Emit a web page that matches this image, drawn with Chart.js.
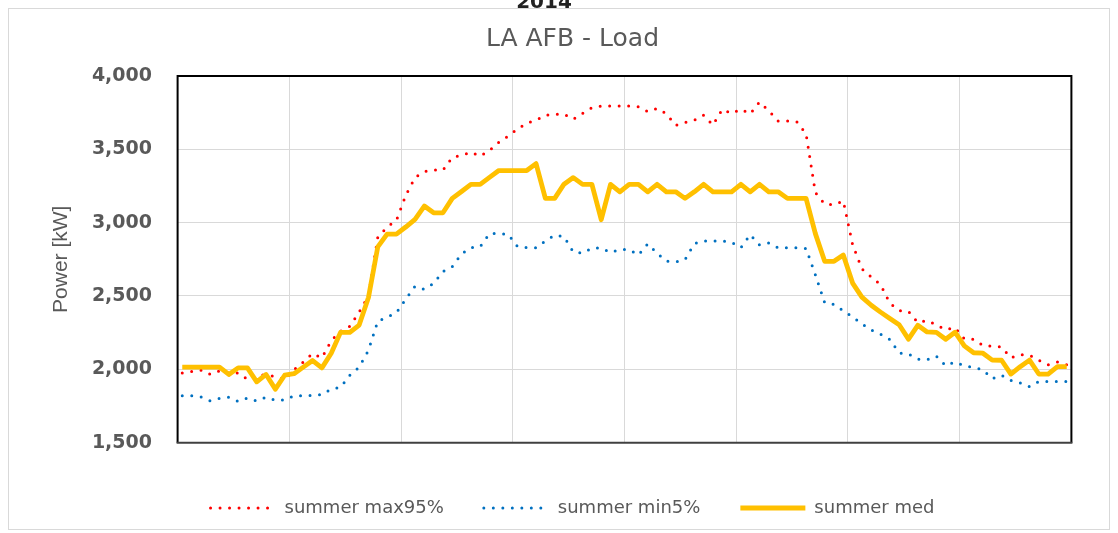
<!DOCTYPE html>
<html lang="en">
<head>
<meta charset="UTF-8">
<title>LA AFB - Load</title>
<script src="https://cdn.jsdelivr.net/npm/chart.js"></script>
<style>
  body { margin: 0; background: #fff; }
  canvas { display: block; }
</style>
</head>
<body>
<canvas id="loadChart" width="1118" height="533"></canvas>
<script>
// 15 minute steps, one label every 3 hours is shown
const timeLabels = [
  '0:00','0:15','0:30','0:45','1:00','1:15','1:30','1:45','2:00','2:15','2:30','2:45',
  '3:00','3:15','3:30','3:45','4:00','4:15','4:30','4:45','5:00','5:15','5:30','5:45',
  '6:00','6:15','6:30','6:45','7:00','7:15','7:30','7:45','8:00','8:15','8:30','8:45',
  '9:00','9:15','9:30','9:45','10:00','10:15','10:30','10:45','11:00','11:15','11:30','11:45',
  '12:00','12:15','12:30','12:45','13:00','13:15','13:30','13:45','14:00','14:15','14:30','14:45',
  '15:00','15:15','15:30','15:45','16:00','16:15','16:30','16:45','17:00','17:15','17:30','17:45',
  '18:00','18:15','18:30','18:45','19:00','19:15','19:30','19:45','20:00','20:15','20:30','20:45',
  '21:00','21:15','21:30','21:45','22:00','22:15','22:30','22:45','23:00','23:15','23:30','23:45'
];

// kW
const summerMax95 = [
  1975, 1985, 1995, 1966, 1990, 1975, 1975, 1932, 1962, 1960,
  1952, 1930, 1997, 2050, 2108, 2078, 2195, 2260, 2293, 2390,
  2500, 2900, 2970, 3015, 3185, 3308, 3348, 3358, 3357, 3445,
  3458, 3481, 3453, 3492, 3548, 3590, 3638, 3678, 3698, 3732,
  3739, 3739, 3705, 3745, 3784, 3794, 3794, 3794, 3794, 3789,
  3756, 3778, 3742, 3663, 3683, 3699, 3733, 3665, 3772, 3745,
  3773, 3741, 3822, 3763, 3693, 3693, 3688, 3605, 3205, 3127,
  3122, 3148, 2850, 2685, 2630, 2578, 2452, 2401, 2395, 2319,
  2333, 2303, 2270, 2285, 2208, 2205, 2163, 2157, 2152, 2078,
  2100, 2097, 2062, 2031, 2050, 2030
];

const summerMin5 = [
  1820, 1820, 1812, 1785, 1802, 1810, 1782, 1805, 1785, 1810,
  1790, 1792, 1820, 1820, 1822, 1828, 1866, 1878, 1960, 2015,
  2130, 2328, 2356, 2385, 2478, 2566, 2546, 2585, 2667, 2700,
  2787, 2830, 2835, 2925, 2926, 2920, 2837, 2829, 2829, 2875,
  2915, 2905, 2800, 2792, 2827, 2827, 2796, 2816, 2817, 2780,
  2856, 2792, 2738, 2733, 2748, 2857, 2875, 2875, 2875, 2865,
  2829, 2918, 2848, 2862, 2829, 2829, 2829, 2824, 2645, 2455,
  2443, 2400, 2358, 2310, 2268, 2240, 2204, 2112, 2104, 2070,
  2065, 2090, 2025, 2050, 2025, 2012, 1997, 1936, 1960, 1925,
  1908, 1882, 1917, 1917, 1917, 1917
];

const summerMed = [
  2015, 2015, 2015, 2015, 2015, 1965, 2010, 2010, 1915, 1965,
  1865, 1960, 1970, 2015, 2060, 2010, 2110, 2252, 2252, 2302,
  2490, 2835, 2922, 2922, 2970, 3022, 3113, 3067, 3067, 3165,
  3212, 3261, 3261, 3308, 3355, 3355, 3355, 3355, 3402, 3165,
  3165, 3262, 3307, 3261, 3261, 3020, 3261, 3210, 3261, 3261,
  3210, 3261, 3210, 3210, 3165, 3210, 3261, 3210, 3210, 3210,
  3261, 3210, 3261, 3210, 3210, 3165, 3165, 3165, 2925, 2736,
  2736, 2779, 2588, 2492, 2437, 2390, 2346, 2304, 2206, 2300,
  2255, 2252, 2205, 2253, 2160, 2113, 2110, 2063, 2062, 1968,
  2018, 2063, 1968, 1968, 2018, 2018
];

const TEXT = '#595959';
const GRID = '#d9d9d9';
const FONT = '"DejaVu Sans", sans-serif';

// outer frame, black plot border and the cut-off year at the very top
const framePlugin = {
  id: 'frame',
  beforeDraw(chart) {
    const ctx = chart.ctx;
    ctx.save();
    ctx.fillStyle = '#fff';
    ctx.fillRect(0, 0, chart.width, chart.height);
    ctx.strokeStyle = GRID;
    ctx.lineWidth = 1;
    ctx.strokeRect(8.5, 8.5, chart.width - 17, chart.height - 12);
    ctx.fillStyle = '#222';
    ctx.font = 'bold 20px ' + FONT;
    ctx.textAlign = 'center';
    ctx.fillText('2014', 544, 3);
    ctx.restore();
  },
  afterDatasetsDraw(chart) {
    const {left, top, right, bottom} = chart.chartArea;
    const ctx = chart.ctx;
    ctx.save();
    ctx.lineWidth = 2;
    ctx.strokeStyle = '#000';
    ctx.beginPath();
    ctx.moveTo(left, bottom);
    ctx.lineTo(left, top);
    ctx.lineTo(right, top);
    ctx.lineTo(right, bottom);
    ctx.stroke();
    ctx.strokeStyle = '#404040';
    ctx.beginPath();
    ctx.moveTo(left - 1, bottom);
    ctx.lineTo(right + 1, bottom);
    ctx.stroke();
    ctx.restore();
  }
};

new Chart(document.getElementById('loadChart'), {
  type: 'line',
  data: {
    labels: timeLabels,
    datasets: [
      {
        label: 'summer max95%',
        data: summerMax95,
        borderColor: '#ff0000',
        borderWidth: 3,
        borderDash: [0, 9.5],
        borderCapStyle: 'round',
        order: 2
      },
      {
        label: 'summer min5%',
        data: summerMin5,
        borderColor: '#0070c0',
        borderWidth: 3,
        borderDash: [0, 9.5],
        borderCapStyle: 'round',
        order: 1
      },
      {
        label: 'summer med',
        data: summerMed,
        borderColor: '#ffc000',
        borderWidth: 4.8,
        borderJoinStyle: 'round',
        order: 0
      }
    ]
  },
  options: {
    responsive: false,
    animation: false,
    devicePixelRatio: 1,
    layout: { padding: { left: 27, right: 0, top: 0, bottom: 6 } },
    elements: {
      point: { radius: 0, hoverRadius: 0, pointStyle: 'line' },
      line: { tension: 0, fill: false }
    },
    scales: {
      x: {
        offset: true,
        grid: {
          offset: true,
          drawTicks: false,
          color: (c) => (c.index % 12 === 0 ? GRID : 'transparent')
        },
        border: { display: false },
        ticks: {
          autoSkip: false,
          maxRotation: 0,
          padding: 14,
          color: TEXT,
          font: { family: FONT, size: 19, weight: 'bold' },
          callback: (v, i) => (i % 12 === 0 ? timeLabels[i] : '')
        },
        afterFit: (s) => { s.height = 16.3; }
      },
      y: {
        min: 1500,
        max: 4000,
        grid: { color: GRID, drawTicks: false },
        border: { display: false },
        ticks: {
          stepSize: 500,
          padding: 25.6,
          color: TEXT,
          font: { family: FONT, size: 19, weight: 'bold' },
          callback: (v) => v.toLocaleString('en-US')
        },
        title: {
          display: true,
          text: 'Power [kW]',
          color: TEXT,
          font: { family: '"Liberation Sans Narrow", "Liberation Sans", sans-serif', size: 21 },
          padding: { top: 21.3, bottom: 0 }
        },
        afterFit: (s) => { s.width = 150.6; }
      },
      // empty axis that only keeps room on the right of the plot
      y2: {
        position: 'right',
        grid: { display: false },
        border: { display: false },
        ticks: { display: false },
        afterFit: (s) => { s.width = 46.6; }
      }
    },
    plugins: {
      title: {
        display: true,
        text: 'LA AFB - Load',
        color: TEXT,
        font: { family: FONT, size: 25, weight: 'normal' },
        padding: { top: 24.2, bottom: 21.7 }
      },
      legend: {
        position: 'bottom',
        labels: {
          usePointStyle: true,
          pointStyleWidth: 65,
          padding: 40,
          color: TEXT,
          font: { family: FONT, size: 18 },
          sort: (a, b) => a.datasetIndex - b.datasetIndex,
          generateLabels(chart) {
            const items = Chart.defaults.plugins.legend.labels.generateLabels(chart);
            items.forEach((it) => {
              const ds = chart.data.datasets[it.datasetIndex];
              it.lineDash = ds.borderDash || [];
              it.lineCap = ds.borderCapStyle || 'butt';
              it.lineWidth = ds.borderWidth;
              it.strokeStyle = ds.borderColor;
            });
            return items;
          }
        }
      },
      tooltip: { enabled: false }
    }
  },
  plugins: [framePlugin]
});
</script>
</body>
</html>
